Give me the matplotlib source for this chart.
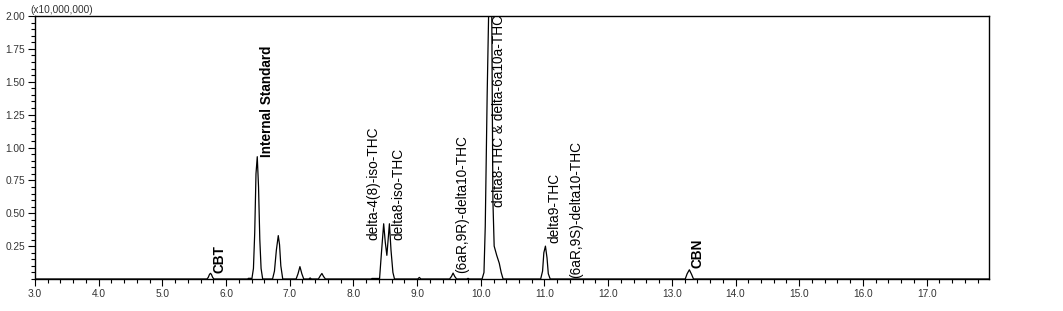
import numpy as np
import matplotlib
matplotlib.use('Agg')
from matplotlib import pyplot as plt
from matplotlib.ticker import MultipleLocator, FixedLocator, FormatStrFormatter

# retention time (min) and intensity (x10,000,000)
rt = [3.00, 5.70, 5.72, 5.74, 5.755, 5.77, 5.79, 5.81,
      6.34, 6.35, 6.39, 6.405, 6.43, 6.45, 6.47, 6.49, 6.51, 6.53, 6.55, 6.575,
      6.73, 6.76, 6.79, 6.82, 6.84, 6.86, 6.89,
      7.10, 7.13, 7.16, 7.19, 7.22,
      7.30, 7.32, 7.34,
      7.45, 7.48, 7.505, 7.53, 7.56,
      8.28, 8.29, 8.40, 8.41, 8.44, 8.475, 8.50, 8.525, 8.545, 8.565, 8.59, 8.62, 8.645,
      9.01, 9.035, 9.06,
      9.51, 9.54, 9.565, 9.59, 9.62,
      9.78, 9.80, 9.82,
      10.02, 10.05, 10.07, 10.10, 10.13, 10.17, 10.19, 10.21, 10.25, 10.29, 10.32, 10.35,
      10.94, 10.97, 10.99, 11.015, 11.04, 11.06, 11.09,
      13.21, 13.24, 13.275, 13.31, 13.34, 17.98]
intensity = [0.0, 0.0, 0.012, 0.035, 0.043, 0.035, 0.012, 0.0,
             0.0, 0.005, 0.005, 0.0, 0.08, 0.35, 0.80, 0.93, 0.70, 0.30, 0.08, 0.0,
             0.0, 0.06, 0.22, 0.33, 0.26, 0.10, 0.0,
             0.0, 0.04, 0.094, 0.04, 0.0,
             0.0, 0.008, 0.0,
             0.0, 0.025, 0.042, 0.02, 0.0,
             0.0, 0.004, 0.004, 0.0, 0.20, 0.42, 0.28, 0.18, 0.30, 0.42, 0.22, 0.05, 0.0,
             0.0, 0.012, 0.0,
             0.0, 0.02, 0.045, 0.02, 0.0,
             0.0, 0.005, 0.0,
             0.0, 0.05, 0.40, 1.40, 2.20, 2.20, 0.60, 0.25, 0.18, 0.12, 0.05, 0.0,
             0.0, 0.06, 0.20, 0.25, 0.16, 0.04, 0.0,
             0.0, 0.04, 0.07, 0.035, 0.0, 0.0]

peak_names = ['CBT', 'Internal Standard', 'delta-4(8)-iso-THC', 'delta8-iso-THC',
              '(6aR,9R)-delta10-THC', 'delta8-THC & delta-6a10a-THC', 'delta9-THC',
              '(6aR,9S)-delta10-THC', 'CBN']
bold_names = ['CBT', 'Internal Standard', 'CBN']

# where each label sits (time, intensity of text start)
label_pos = [(5.90, 0.046), (6.64, 0.928), (8.32, 0.297), (8.71, 0.297),
             (9.70, 0.046), (10.28, 0.548), (11.15, 0.274), (11.49, 0.008),
             (13.41, 0.084)]

plt.rcParams['font.family'] = ['Liberation Sans', 'DejaVu Sans']

fig = plt.figure(figsize=(10.63, 3.11), dpi=100)
ax = fig.add_axes([35/1063, 32/311, (989-35)/1063, (279-16)/311])

ax.plot(rt, intensity, color='black', lw=0.9)

for name, (x, y) in zip(peak_names, label_pos):
    w = 'bold' if name in bold_names else 'normal'
    ax.text(x, y, name, rotation=90, ha='center', va='bottom', fontsize=9.8,
            fontweight=w, color='black', clip_on=False)

ax.set_xlim(3.0, 17.98)
ax.set_ylim(0, 2.0)
ax.xaxis.set_major_locator(MultipleLocator(1.0))
ax.xaxis.set_minor_locator(MultipleLocator(0.2))
ax.xaxis.set_major_formatter(FormatStrFormatter('%.1f'))
ax.yaxis.set_major_locator(FixedLocator([0.25, 0.5, 0.75, 1.0, 1.25, 1.5, 1.75, 2.0]))
ax.yaxis.set_minor_locator(MultipleLocator(0.05))
ax.yaxis.set_major_formatter(FormatStrFormatter('%.2f'))

ax.tick_params(which='major', direction='out', length=5, width=0.8,
               labelsize=7.3, labelcolor='#333333', pad=2)
ax.tick_params(which='minor', direction='out', length=3, width=0.8)
for s in ax.spines.values():
    s.set_linewidth(1.0)

fig.text(30/1063, 1 - 10/311, '(x10,000,000)', fontsize=7.3, color='#333333',
         ha='left', va='center')

fig.savefig('out.png', dpi=100)
